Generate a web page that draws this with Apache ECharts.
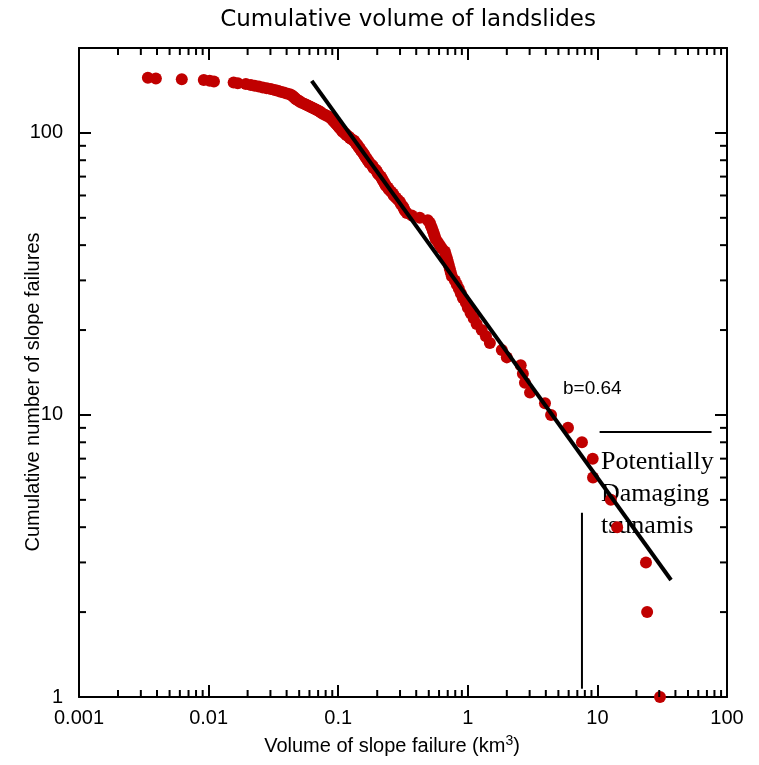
<!DOCTYPE html>
<html>
<head>
<meta charset="utf-8">
<title>Cumulative volume of landslides</title>
<script src="https://cdn.jsdelivr.net/npm/echarts@6/dist/echarts.min.js"></script>
<style>
  html, body { margin: 0; padding: 0; background: #fff; }
  #chart { width: 759px; height: 765px; }
</style>
</head>
<body>
<div id="chart"></div>
<script>
// volume of each slope failure (km3), largest first
const slideVolumes = [
    30.4, 24.2, 23.7, 14.2, 12.7, 9.25, 9.2, 7.6, 5.93, 4.39,
    3.94, 3.02, 2.76, 2.66, 2.56, 2.0, 1.83, 1.48, 1.38, 1.28,
    1.17, 1.11, 1.05, 1.0, 0.966, 0.915, 0.883, 0.853, 0.822, 0.794,
    0.753, 0.739, 0.726, 0.713, 0.701, 0.689, 0.676, 0.665, 0.630, 0.608,
    0.587, 0.566, 0.556, 0.547, 0.537, 0.528, 0.518, 0.509, 0.491, 0.426,
    0.370, 0.338, 0.327, 0.321, 0.315, 0.304, 0.299, 0.288, 0.278, 0.268,
    0.264, 0.255, 0.246, 0.241, 0.233, 0.229, 0.225, 0.221, 0.217, 0.213,
    0.206, 0.202, 0.199, 0.195, 0.188, 0.185, 0.182, 0.175, 0.172, 0.169,
    0.166, 0.163, 0.160, 0.158, 0.155, 0.152, 0.149, 0.147, 0.144, 0.142,
    0.139, 0.137, 0.134, 0.132, 0.127, 0.123, 0.121, 0.116, 0.115, 0.112,
    0.108, 0.107, 0.105, 0.103, 0.101, 0.0993, 0.0975, 0.0958, 0.0942, 0.0925,
    0.0908, 0.0893, 0.0877, 0.0846, 0.0816, 0.0788, 0.0761, 0.0734, 0.0721, 0.0696,
    0.0672, 0.0649, 0.0625, 0.0604, 0.0582, 0.0562, 0.0543, 0.0524, 0.0506, 0.0497,
    0.0480, 0.0471, 0.0463, 0.0454, 0.0447, 0.0438, 0.0423, 0.0401, 0.0380, 0.0360,
    0.0342, 0.0324, 0.0302, 0.0281, 0.0262, 0.0244, 0.0227, 0.0212, 0.0194, 0.0168,
    0.0156, 0.0110, 0.0102, 0.00918, 0.00621, 0.00392, 0.00340
];

// cumulative number of failures at or above that volume
const slideCounts = [
    1, 2, 3, 4, 5, 6, 7, 8, 9, 10,
    11, 12, 13, 14, 15, 16, 17, 18, 19, 20,
    21, 22, 23, 24, 25, 26, 27, 28, 29, 30,
    31, 32, 33, 34, 35, 36, 37, 38, 39, 40,
    41, 42, 43, 44, 45, 46, 47, 48, 49, 50,
    51, 52, 53, 54, 55, 56, 57, 58, 59, 60,
    61, 62, 63, 64, 65, 66, 67, 68, 69, 70,
    71, 72, 73, 74, 75, 76, 77, 78, 79, 80,
    81, 82, 83, 84, 85, 86, 87, 88, 89, 90,
    91, 92, 93, 94, 95, 96, 97, 98, 99, 100,
    101, 102, 103, 104, 105, 106, 107, 108, 109, 110,
    111, 112, 113, 114, 115, 116, 117, 118, 119, 120,
    121, 122, 123, 124, 125, 126, 127, 128, 129, 130,
    131, 132, 133, 134, 135, 136, 137, 138, 139, 140,
    141, 142, 143, 144, 145, 146, 147, 148, 149, 150,
    151, 152, 153, 154, 155, 156, 157
];

// power-law fit, b = 0.64
const fitLine = [[0.0625, 153], [37, 2.6]];
// threshold for potentially damaging tsunamis
const thresholdVertical = [[7.6, 1.07], [7.6, 4.5]];
const thresholdHorizontal = [[10.4, 8.7], [76, 8.7]];

const xRange = [0.001, 100];
const yRange = [1, 200];
const minorMultiples = [2, 3, 4, 5, 6, 7, 8, 9];

function minorTickValues(lo, hi) {
    const out = [];
    for (let d = lo; d < hi; d *= 10) {
        minorMultiples.forEach(m => out.push(+(m * d).toPrecision(3)));
    }
    return out;
}
const xMinor = minorTickValues(xRange[0], xRange[1]);
const yMinor = minorTickValues(yRange[0], 1000).filter(v => v < yRange[1]);

const chart = echarts.init(document.getElementById('chart'), null, { renderer: 'canvas' });

const sans = 'Liberation Sans, Arial, sans-serif';
const axisLine = { show: true, onZero: false, lineStyle: { color: '#000', width: 2 } };
const majorTick = { show: true, inside: true, length: 12, lineStyle: { color: '#000', width: 2 } };

// only label the decades
function decadeLabel(v) {
    const e = Math.log10(v);
    return Math.abs(e - Math.round(e)) < 1e-6 ? String(+v.toPrecision(3)) : '';
}

function tickRenderer(horizontal) {
    return function (params, api) {
        const len = 7;
        const style = { stroke: '#000', lineWidth: 2 };
        if (horizontal) {
            const v = api.value(0);
            const a = api.coord([v, yRange[0]]);
            const b = api.coord([v, yRange[1]]);
            return { type: 'group', children: [
                { type: 'line', shape: { x1: a[0], y1: a[1], x2: a[0], y2: a[1] - len }, style },
                { type: 'line', shape: { x1: b[0], y1: b[1], x2: b[0], y2: b[1] + len }, style }
            ] };
        }
        const v = api.value(1);
        const a = api.coord([xRange[0], v]);
        const b = api.coord([xRange[1], v]);
        return { type: 'group', children: [
            { type: 'line', shape: { x1: a[0], y1: a[1], x2: a[0] + len, y2: a[1] }, style },
            { type: 'line', shape: { x1: b[0], y1: b[1], x2: b[0] - len, y2: b[1] }, style }
        ] };
    };
}

const option = {
    animation: false,
    backgroundColor: '#fff',
    title: {
        text: 'Cumulative volume of landslides',
        left: 403,
        top: 4,
        textAlign: 'center',
        textStyle: { fontFamily: 'DejaVu Sans', fontSize: 23, fontWeight: 'normal', color: '#000' }
    },
    grid: { left: 79, right: 32, top: 48, bottom: 68 },
    xAxis: [
        {
            type: 'log', logBase: 10, min: xRange[0], max: xRange[1],
            axisLine, axisTick: majorTick, splitLine: { show: false },
            axisLabel: { color: '#000', fontFamily: sans, fontSize: 20, margin: 11, formatter: decadeLabel }
        },
        {
            type: 'log', logBase: 10, min: xRange[0], max: xRange[1], position: 'top',
            axisLine, axisTick: majorTick, splitLine: { show: false }, axisLabel: { show: false }
        }
    ],
    yAxis: [
        {
            type: 'log', logBase: 10, min: yRange[0], max: yRange[1],
            axisLine, axisTick: majorTick, splitLine: { show: false },
            axisLabel: {
                color: '#000', fontFamily: sans, fontSize: 20, margin: 16,
                showMaxLabel: false, formatter: decadeLabel
            }
        },
        {
            type: 'log', logBase: 10, min: yRange[0], max: yRange[1], position: 'right',
            axisLine, axisTick: majorTick, splitLine: { show: false }, axisLabel: { show: false }
        }
    ],
    graphic: [
        {
            type: 'text', x: 392, y: 746,
            style: {
                text: 'Volume of slope failure (km{sup|3})',
                fill: '#000', font: '20px ' + sans, textAlign: 'center', textVerticalAlign: 'middle',
                rich: { sup: { fontSize: 14, fontFamily: sans, verticalAlign: 'top', padding: [0, 0, 10, 0] } }
            }
        },
        {
            type: 'text', x: 33, y: 392, rotation: Math.PI / 2,
            style: {
                text: 'Cumulative number of slope failures',
                fill: '#000', font: '20px ' + sans, textAlign: 'center', textVerticalAlign: 'middle'
            }
        },
        {
            type: 'text', x: 563, y: 389,
            style: { text: 'b=0.64', fill: '#000', font: '19px ' + sans, textVerticalAlign: 'middle' }
        },
        {
            type: 'text', x: 601, y: 446,
            style: {
                text: 'Potentially\nDamaging\ntsunamis',
                fill: '#000', font: '26px Liberation Serif, Times New Roman, serif', lineHeight: 32
            }
        }
    ],
    series: [
        {
            name: 'failures',
            type: 'scatter',
            symbol: 'circle',
            symbolSize: 12,
            itemStyle: { color: '#c00000', opacity: 1 },
            data: slideVolumes.map((v, i) => [v, slideCounts[i]]),
            z: 2
        },
        {
            name: 'fit',
            type: 'line',
            data: fitLine,
            showSymbol: false,
            lineStyle: { color: '#000', width: 4 },
            z: 3
        },
        {
            name: 'threshold-v',
            type: 'line',
            data: thresholdVertical,
            showSymbol: false,
            lineStyle: { color: '#000', width: 2 },
            z: 3
        },
        {
            name: 'threshold-h',
            type: 'line',
            data: thresholdHorizontal,
            showSymbol: false,
            lineStyle: { color: '#000', width: 2 },
            z: 3
        },
        {
            name: 'x-minor',
            type: 'custom',
            renderItem: tickRenderer(true),
            data: xMinor.map(v => [v, yRange[0]]),
            silent: true,
            clip: false,
            z: 4
        },
        {
            name: 'y-minor',
            type: 'custom',
            renderItem: tickRenderer(false),
            data: yMinor.map(v => [xRange[0], v]),
            silent: true,
            clip: false,
            z: 4
        }
    ]
};

chart.setOption(option);
</script>
</body>
</html>
